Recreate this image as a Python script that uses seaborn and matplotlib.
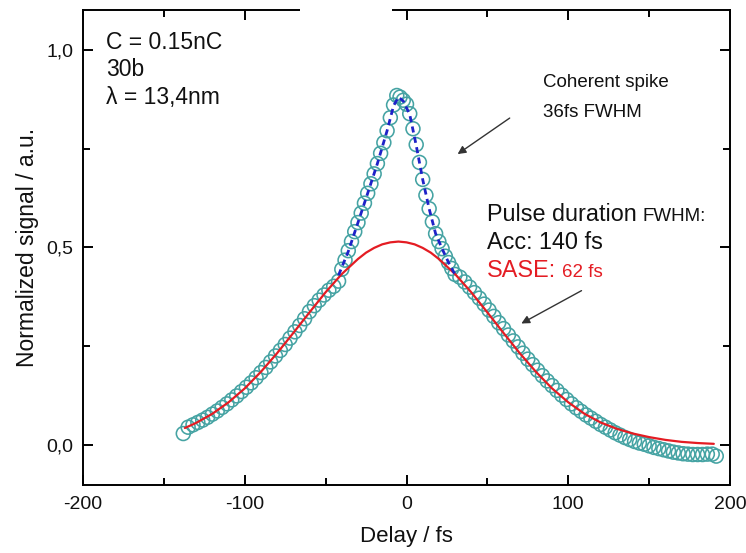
import matplotlib
matplotlib.use("Agg")
import matplotlib.pyplot as plt
import seaborn as sns
import pandas as pd
from matplotlib.ticker import FixedLocator, FuncFormatter
from matplotlib.patches import Rectangle

# ---------------- data ----------------
delay_fs = [
    -138, -135, -132, -129, -126, -123, -120, -117, -114, -111, -108, -105,
    -102, -99, -96, -93, -90, -87, -84, -81, -78, -75, -72, -69, -66, -63,
    -60, -57, -54, -51, -48, -45, -42,
    -40, -38, -36, -34, -32, -30, -28, -26, -24, -22, -20, -18, -16, -14,
    -12, -10, -8, -6, -4,
    -2, 0, 2, 4, 6, 8, 10, 12, 14, 16, 18, 20, 22, 24, 26, 28, 30,
    33, 36, 39, 42, 45, 48, 51, 54, 57, 60, 63, 66, 69, 72, 75, 78, 81, 84,
    87, 90, 93, 96, 99, 102, 105, 108, 111, 114, 117,
    120, 123, 126, 129, 132, 135, 138, 141, 144, 147, 150, 153, 156, 159,
    162, 165, 168, 171, 174, 177, 180, 183, 186, 189, 191.5,
]
signal = [
    0.030, 0.046, 0.052, 0.058, 0.064, 0.071, 0.079, 0.087, 0.096, 0.105,
    0.115, 0.125, 0.136, 0.147, 0.158, 0.171, 0.184, 0.197, 0.211, 0.226,
    0.240, 0.255, 0.271, 0.287, 0.303, 0.320, 0.338, 0.353, 0.367, 0.380,
    0.392, 0.402, 0.415,
    0.445, 0.468, 0.492, 0.515, 0.540, 0.563, 0.587, 0.612, 0.637, 0.661,
    0.686, 0.712, 0.738, 0.765, 0.795, 0.828, 0.860, 0.884, 0.880,
    0.872, 0.862, 0.838, 0.800, 0.760, 0.715, 0.672, 0.632, 0.598, 0.565,
    0.535, 0.515, 0.497, 0.478, 0.462, 0.447, 0.432,
    0.425, 0.413, 0.400, 0.386, 0.372, 0.357, 0.342, 0.326, 0.310, 0.295,
    0.279, 0.264, 0.249, 0.233, 0.218, 0.204, 0.190, 0.176, 0.163, 0.151,
    0.139, 0.127, 0.116, 0.105, 0.095, 0.086, 0.077, 0.069, 0.061,
    0.053, 0.046, 0.039, 0.032, 0.026, 0.020, 0.015, 0.010, 0.006, 0.003,
    -0.001, -0.005, -0.008, -0.011, -0.014, -0.017, -0.019, -0.021, -0.022,
    -0.023, -0.023, -0.023, -0.022, -0.022, -0.027,
]

broad_fit_x = [-137, -130, -120, -110, -100, -90, -80, -70, -60, -50, -40,
               -30, -25, -20, -15, -10, -5, 0, 5, 10, 15, 20, 30, 40, 50,
               60, 70, 80, 90, 100, 110, 120, 130, 140, 150, 160, 170, 180, 190]
broad_fit_y = [0.044, 0.057, 0.080, 0.109, 0.144, 0.186, 0.233, 0.284, 0.336,
               0.387, 0.433, 0.471, 0.487, 0.499, 0.508, 0.513, 0.515, 0.513,
               0.508, 0.499, 0.487, 0.471, 0.433, 0.387, 0.336, 0.284, 0.233,
               0.186, 0.144, 0.109, 0.080, 0.058, 0.042, 0.030, 0.021, 0.014,
               0.009, 0.006, 0.004]

spike_fit_x = [-42, -36, -30, -24, -18, -12, -8, -5, -2, 2, 6, 10, 14, 18,
               22, 26, 30]
spike_fit_y = [0.430, 0.490, 0.563, 0.637, 0.712, 0.795, 0.858, 0.880, 0.870,
               0.836, 0.758, 0.672, 0.598, 0.535, 0.497, 0.462, 0.432]

x_ticks = [-200, -100, 0, 100, 200]
y_ticks = [0.0, 0.5, 1.0]

# ---------------- style ----------------
sns.set_theme(style="ticks")
plt.rcParams["font.family"] = ["Liberation Sans", "DejaVu Sans"]

TEAL = "#45a3a3"
RED = "#e41c23"
BLUE = "#1f22c8"

fig = plt.figure(figsize=(7.46, 5.53), dpi=100)
ax = fig.add_axes([83 / 746, 1 - 485 / 553, (730 - 83) / 746, (485 - 10) / 553])

df = pd.DataFrame({"delay": delay_fs, "signal": signal})
sns.scatterplot(data=df, x="delay", y="signal", ax=ax, marker="o", s=100,
                facecolors="none", edgecolors=TEAL, linewidth=1.15, zorder=2,
                legend=False)
sns.lineplot(x=broad_fit_x, y=broad_fit_y, ax=ax, color=RED, lw=1.6,
             sort=False, estimator=None, zorder=3)
sns.lineplot(x=spike_fit_x, y=spike_fit_y, ax=ax, color=BLUE, lw=2.0,
             linestyle=(0, (2.2, 1.6)), sort=False, estimator=None, zorder=4)

ax.set_xlim(-200, 200)
ax.set_ylim(-0.1, 1.1)
ax.xaxis.set_major_locator(FixedLocator(x_ticks))
ax.xaxis.set_minor_locator(FixedLocator([-150, -50, 50, 150]))
ax.yaxis.set_major_locator(FixedLocator(y_ticks))
ax.yaxis.set_minor_locator(FixedLocator([0.25, 0.75]))
ax.xaxis.set_major_formatter(FuncFormatter(lambda v, p: f"{v:g}"))
ax.yaxis.set_major_formatter(FuncFormatter(lambda v, p: f"{v:.1f}".replace(".", ",")))

for s in ax.spines.values():
    s.set_linewidth(1.4)
    s.set_color("black")
ax.tick_params(which="both", direction="in", top=True, right=True,
               width=1.4, color="black", labelsize=14, labelcolor="#111111")
ax.tick_params(which="major", length=7)
ax.tick_params(which="minor", length=5)
ax.tick_params(axis="x", which="major", pad=8)
ax.tick_params(axis="y", which="major", pad=7)

ax.set_xlabel("Delay / fs", fontsize=16, labelpad=9, color="#111111")
ax.set_ylabel("Normalized signal / a.u.", fontsize=16.5, labelpad=5,
              color="#111111")

# ---------------- annotations ----------------
tk = dict(color="#111111", ha="left", va="baseline")
ax.text(-185.8, 1.001, "C = 0.15nC", fontsize=16.5, **tk)
ax.text(-185.8, 0.933, "30b", fontsize=16.5, **tk)
ax.text(-185.8, 0.862, "λ = 13,4nm", fontsize=16.5, **tk)

ax.text(84.2, 0.906, "Coherent spike", fontsize=13.5, **tk)
ax.text(84.2, 0.830, "36fs FWHM", fontsize=13.5, **tk)

ax.text(49.5, 0.567, "Pulse duration", fontsize=16.8, **tk)
ax.text(146.0, 0.567, "FWHM:", fontsize=13.5, **tk)
ax.text(49.5, 0.497, "Acc: 140 fs", fontsize=16.8, **tk)
ax.text(49.5, 0.425, "SASE:", fontsize=16.8, color=RED, ha="left", va="baseline")
ax.text(96.0, 0.425, "62 fs", fontsize=13.5, color=RED, ha="left", va="baseline")

arrow = dict(arrowstyle="-|>", color="#333333", lw=1.0, mutation_scale=12,
             shrinkA=0, shrinkB=0)
ax.annotate("", xy=(31.6, 0.736), xytext=(63.8, 0.827), arrowprops=arrow)
ax.annotate("", xy=(71.0, 0.308), xytext=(108.2, 0.391), arrowprops=arrow)

# gap in the top frame, as in the reference
fig.add_artist(Rectangle((300 / 746, 1 - 19 / 553), 92 / 746, 16 / 553,
                         transform=fig.transFigure, facecolor="white",
                         edgecolor="none", zorder=10))

fig.savefig("out.png", dpi=100)
